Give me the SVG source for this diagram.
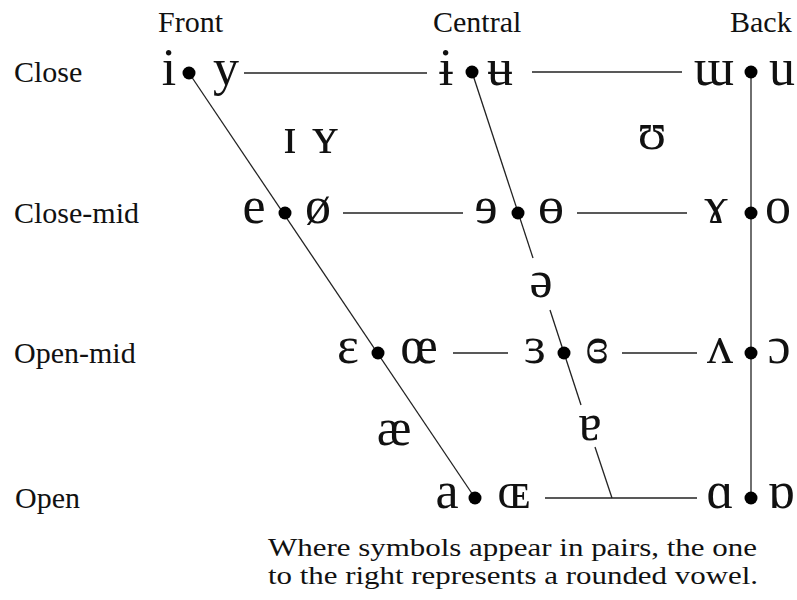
<svg xmlns="http://www.w3.org/2000/svg" width="797" height="600" viewBox="0 0 797 600">
<style>
.lbl{font-family:"Liberation Serif","DejaVu Serif",serif;font-size:30px;fill:#111}
.cap{font-family:"Liberation Serif","DejaVu Serif",serif;font-size:25px;fill:#111}
.sym{font-family:"Liberation Serif","DejaVu Serif",serif;font-size:52px;fill:#111;text-anchor:middle}
.ln{stroke:#222;stroke-width:1.3;fill:none}
.dot{fill:#000}
</style>
<rect width="797" height="600" fill="#fff"/>
<g id="headers">
<text class="lbl" x="158" y="32">Front</text>
<text class="lbl" x="433" y="32">Central</text>
<text class="lbl" x="730" y="32">Back</text>
</g>
<g id="row-labels">
<text class="lbl" x="14" y="82">Close</text>
<text class="lbl" x="14" y="223">Close-mid</text>
<text class="lbl" x="14" y="363">Open-mid</text>
<text class="lbl" x="15" y="508">Open</text>
</g>
<g id="connectors">
<line class="ln" x1="189" y1="73" x2="475" y2="498"/>
<line class="ln" x1="472" y1="72" x2="533" y2="258"/>
<line class="ln" x1="550" y1="310" x2="581" y2="405"/>
<line class="ln" x1="595" y1="447" x2="612" y2="498"/>
<line class="ln" x1="751" y1="72" x2="751" y2="498"/>
<line class="ln" x1="244" y1="73" x2="427" y2="73"/>
<line class="ln" x1="532" y1="72" x2="682" y2="72"/>
<line class="ln" x1="343" y1="213" x2="463" y2="213"/>
<line class="ln" x1="577" y1="213" x2="687" y2="213"/>
<line class="ln" x1="453" y1="353" x2="508" y2="353"/>
<line class="ln" x1="622" y1="353" x2="697" y2="353"/>
<line class="ln" x1="545" y1="498" x2="697" y2="498"/>
</g>
<g id="close-front"><text class="sym" x="169" y="85">i</text><circle class="dot" cx="189" cy="73" r="6.5"/><text class="sym" x="226" y="85">y</text></g>
<g id="close-central"><text class="sym" x="446" y="85">ɨ</text><circle class="dot" cx="472" cy="72" r="6.5"/><text class="sym" x="500" y="85">ʉ</text></g>
<g id="close-back"><text class="sym" x="714" y="85">ɯ</text><circle class="dot" cx="751" cy="72" r="6.5"/><text class="sym" x="782" y="85">u</text></g>
<g id="near-close-front"><text class="sym" x="290" y="153">ɪ</text><text class="sym" x="325" y="153">ʏ</text></g>
<g id="near-close-back"><text class="sym" x="652" y="149">ʊ</text></g>
<g id="close-mid-front"><text class="sym" x="254" y="223">e</text><circle class="dot" cx="285" cy="213" r="6.5"/><text class="sym" x="318" y="223">ø</text></g>
<g id="close-mid-central"><text class="sym" x="486" y="223">ɘ</text><circle class="dot" cx="518" cy="213" r="6.5"/><text class="sym" x="551" y="223">ɵ</text></g>
<g id="close-mid-back"><text class="sym" x="716" y="223">ɤ</text><circle class="dot" cx="751" cy="213" r="6.5"/><text class="sym" x="778" y="223">o</text></g>
<g id="mid-central"><text class="sym" x="541" y="297">ə</text></g>
<g id="open-mid-front"><text class="sym" x="348" y="363">ɛ</text><circle class="dot" cx="378" cy="353" r="6.5"/><text class="sym" x="419" y="363">œ</text></g>
<g id="open-mid-central"><text class="sym" x="535" y="363">ɜ</text><circle class="dot" cx="564" cy="353" r="6.5"/><text class="sym" x="597" y="363">ɞ</text></g>
<g id="open-mid-back"><text class="sym" x="720" y="363">ʌ</text><circle class="dot" cx="751" cy="353" r="6.5"/><text class="sym" x="779" y="363">ɔ</text></g>
<g id="near-open-front"><text class="sym" x="394" y="445">æ</text></g>
<g id="near-open-central"><text class="sym" x="590" y="440">ɐ</text></g>
<g id="open-front"><text class="sym" x="447" y="508">a</text><circle class="dot" cx="475" cy="498" r="6.5"/><text class="sym" x="514" y="508">ɶ</text></g>
<g id="open-back"><text class="sym" x="720" y="508">ɑ</text><circle class="dot" cx="751" cy="498" r="6.5"/><text class="sym" x="781" y="508">ɒ</text></g>
<g id="caption">
<text class="cap" x="268" y="556" textLength="489" lengthAdjust="spacingAndGlyphs">Where symbols appear in pairs, the one</text>
<text class="cap" x="268" y="584" textLength="490" lengthAdjust="spacingAndGlyphs">to the right represents a rounded vowel.</text>
</g>
</svg>
